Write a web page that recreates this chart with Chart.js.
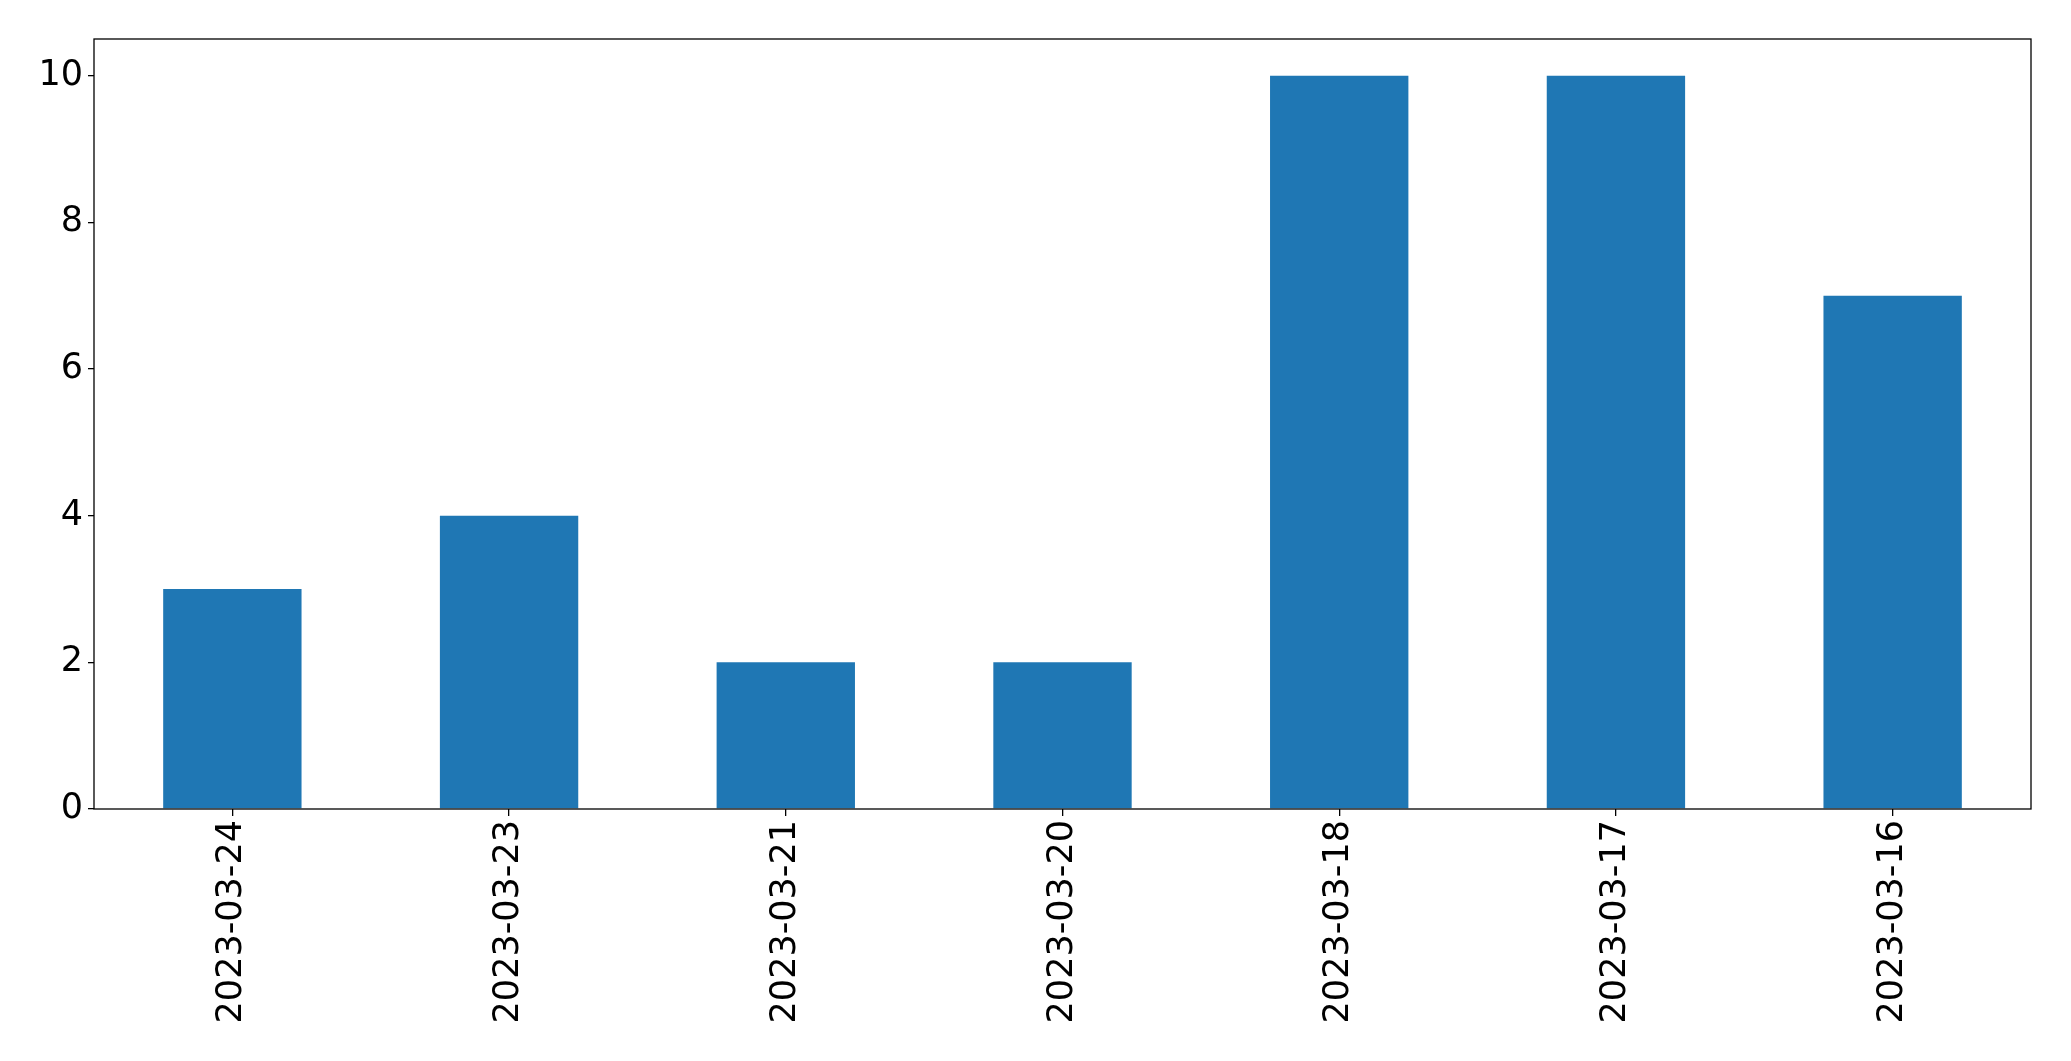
<!DOCTYPE html>
<html>
<head>
<meta charset="utf-8">
<script src="https://cdn.jsdelivr.net/npm/chart.js@4"></script>
<style>
  html, body { margin: 0; padding: 0; background: #fff; }
  #wrap { width: 2071px; height: 1061px; }
</style>
</head>
<body>
<div id="wrap"><canvas id="myChart" width="2071" height="1061"></canvas></div>
<script>
// data
const dates = ['2023-03-24', '2023-03-23', '2023-03-21', '2023-03-20', '2023-03-18', '2023-03-17', '2023-03-16'];
const counts = [3, 4, 2, 2, 10, 10, 7];
const yTicks = [0, 2, 4, 6, 8, 10];

// box around the plot, like matplotlib spines
const frame = {
    id: 'frame',
    afterDraw(chart) {
        const a = chart.chartArea;
        const ctx = chart.ctx;
        ctx.save();
        ctx.strokeStyle = '#000';
        ctx.lineWidth = 1.3;
        ctx.strokeRect(a.left, a.top, a.right - a.left, a.bottom - a.top);
        ctx.restore();
    }
};

Chart.defaults.font.family = '"DejaVu Sans", sans-serif';
Chart.defaults.color = '#000';

let ctx = document.getElementById('myChart').getContext('2d');
let chart = new Chart(ctx, {
    type: 'bar',
    data: {
        labels: dates,
        datasets: [{
            data: counts,
            backgroundColor: '#1f77b4',
            barPercentage: 0.5,
            categoryPercentage: 1.0
        }]
    },
    options: {
        responsive: false,
        animation: false,
        layout: { padding: { top: 39, right: 40, left: 0, bottom: 0 } },
        plugins: {
            legend: { display: false },
            tooltip: { enabled: false }
        },
        scales: {
            x: {
                offset: true,
                grid: { offset: false, drawOnChartArea: false, drawTicks: true, tickLength: 7, color: '#000', lineWidth: 1.3 },
                border: { display: false },
                ticks: { minRotation: 90, maxRotation: 90, padding: 4, font: { size: 35 }, autoSkip: false },
                afterFit(scale) { scale.height = 252; }
            },
            y: {
                min: 0,
                max: 10.5,
                grid: { drawOnChartArea: false, drawTicks: true, tickLength: 6, color: '#000', lineWidth: 1.3 },
                border: { display: false },
                ticks: { padding: 5, font: { size: 35 } },
                afterBuildTicks(scale) { scale.ticks = yTicks.map(v => ({ value: v })); },
                afterFit(scale) { scale.width = 94; }
            }
        }
    },
    plugins: [frame]
});
</script>
</body>
</html>
